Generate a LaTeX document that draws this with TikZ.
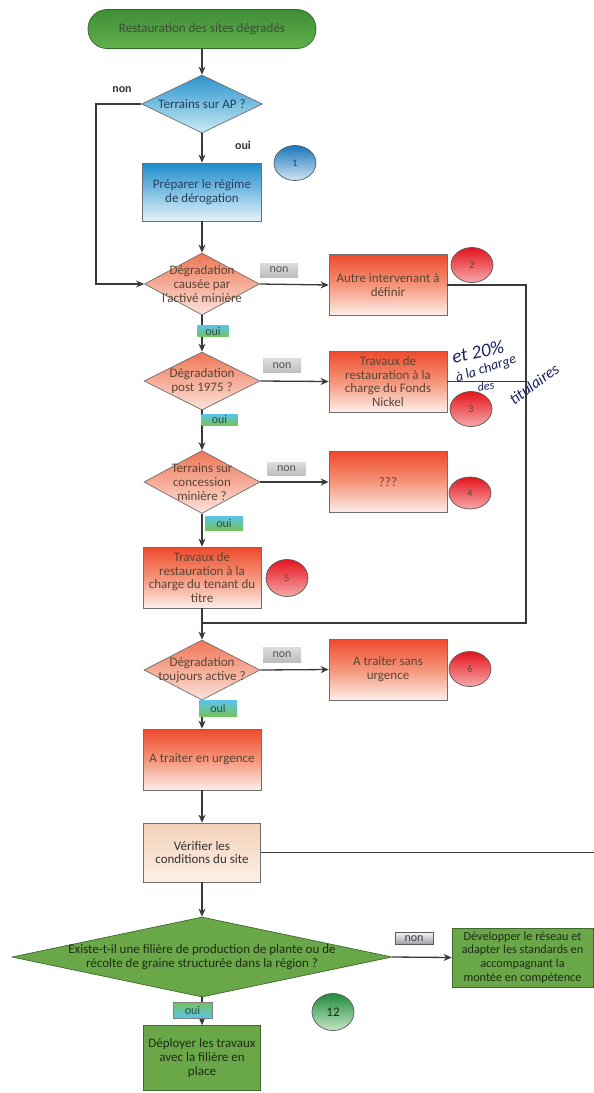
\documentclass[tikz,border=0pt]{standalone}
\usepackage{fontspec}
\setmainfont{Carlito}
\usetikzlibrary{shapes.geometric,arrows.meta}

% palette
\definecolor{lineg}{HTML}{3A3A3A}
\definecolor{termtop}{HTML}{3E8E35}
\definecolor{termbot}{HTML}{62B04C}
\definecolor{termedge}{HTML}{2D6A27}
\definecolor{termtxt}{HTML}{3D4D36}
\definecolor{bluetop}{HTML}{1E8CCB}
\definecolor{bluebot}{HTML}{E4F3FA}
\definecolor{bluedtop}{HTML}{2A93CC}
\definecolor{bluedbot}{HTML}{C9ECF4}
\definecolor{bluetxt}{HTML}{23405E}
\definecolor{redtop}{HTML}{EE4A2C}
\definecolor{redmid}{HTML}{F5957A}
\definecolor{redbot}{HTML}{FCEFEA}
\definecolor{reddtop}{HTML}{EF7556}
\definecolor{reddbot}{HTML}{FBE4DA}
\definecolor{redtxt}{HTML}{5A4535}
\definecolor{boxedge}{HTML}{6E6E6E}
\definecolor{crtop}{HTML}{E3141C}
\definecolor{crbot}{HTML}{F7A9A9}
\definecolor{cbtop}{HTML}{1B75BC}
\definecolor{cbbot}{HTML}{CFE6F3}
\definecolor{cgtop}{HTML}{1F8A3C}
\definecolor{cgbot}{HTML}{C5E6C5}
\definecolor{peachtop}{HTML}{F4D1B8}
\definecolor{peachbot}{HTML}{FCEFE6}
\definecolor{greenf}{HTML}{6AA749}
\definecolor{greenedge}{HTML}{3E6B2D}
\definecolor{greentxt}{HTML}{1F2B17}
\definecolor{greytop}{HTML}{DCDCDC}
\definecolor{greybot}{HTML}{BEBEBE}
\definecolor{greytxt}{HTML}{555555}
\definecolor{nontop}{HTML}{F2F2F6}
\definecolor{nonbot}{HTML}{9C9CA4}
\definecolor{nonedge}{HTML}{5A5A60}
\definecolor{ouitop}{HTML}{5CC3EA}
\definecolor{ouibot}{HTML}{73C35A}
\definecolor{ouitxt}{HTML}{2E4A4A}
\definecolor{ink}{HTML}{1C2260}

\tikzset{
  every node/.style={font=\fontsize{13}{13.8}\selectfont},
  base/.style={draw=boxedge, line width=0.7pt, align=center, inner sep=2pt},
  terminal/.style={base, rectangle, rounded corners=19pt, draw=termedge,
    minimum width=228pt, minimum height=39pt,
    top color=termtop, bottom color=termbot, text=termtxt},
  bluebox/.style={base, rectangle, minimum width=119pt, minimum height=58pt,
    top color=bluetop, bottom color=bluebot, text=bluetxt},
  redbox/.style={base, rectangle, minimum width=118pt, minimum height=61pt,
    top color=redtop, bottom color=redbot, middle color=redmid, text=redtxt},
  peachbox/.style={base, rectangle, minimum width=117pt, minimum height=59pt,
    top color=peachtop, bottom color=peachbot, text=black!80},
  greenbox/.style={base, rectangle, draw=greenedge, fill=greenf, text=greentxt},
  dtext/.style={align=center, inner sep=0pt},
  bluedia/.style={diamond, draw=boxedge, line width=0.7pt, inner sep=0pt,
    top color=bluedtop, bottom color=bluedbot,
    label={[dtext, text=bluetxt]center:#1}},
  reddia/.style={diamond, draw=boxedge, line width=0.7pt, inner sep=0pt,
    minimum width=116pt, minimum height=60pt,
    top color=reddtop, bottom color=reddbot,
    label={[dtext, text=redtxt]center:#1}},
  greendia/.style={diamond, draw=greenedge, line width=0.7pt, inner sep=0pt,
    fill=greenf, label={[dtext, text=greentxt]center:#1}},
  badge/.style={ellipse, draw=black!65, line width=0.7pt, inner sep=0pt,
    minimum width=42pt, minimum height=35pt, font=\fontsize{10}{11}\selectfont},
  redbadge/.style={badge, top color=crtop, bottom color=crbot, text=redtxt},
  bluebadge/.style={badge, top color=cbtop, bottom color=cbbot, text=bluetxt},
  greenbadge/.style={badge, top color=cgtop, bottom color=cgbot, text=greentxt,
    font=\fontsize{13}{14}\selectfont},
  nontag/.style={rectangle, inner sep=0pt, minimum width=38pt, minimum height=14pt,
    top color=greytop, bottom color=greybot, text=greytxt,
    font=\fontsize{12}{12}\selectfont},
  ouitag/.style={rectangle, inner sep=0pt, minimum width=36pt, minimum height=13pt,
    top color=ouitop, bottom color=ouibot, text=ouitxt,
    font=\fontsize{12}{12}\selectfont},
  plain/.style={text=black!80, inner sep=0pt, font=\bfseries\fontsize{12}{12}\selectfont},
  hand/.style={text=ink, inner sep=0pt},
  flow/.style={draw=lineg, line width=1.3pt, -{Stealth[length=8pt,width=7pt]}},
  link/.style={draw=lineg, line width=1.3pt},
}

\begin{document}
\begin{tikzpicture}[x=1pt, y=-1pt]
  \useasboundingbox (0,0) rectangle (594,1093);
  \fill[white] (0,0) rectangle (594,1093);

  % main column
  \node[terminal] (start) at (202,29) {Restauration des sites dégradés};
  \node[bluedia={Terrains sur AP ?}, minimum width=121pt, minimum height=58pt] (d1) at (202,104) {};
  \node[bluebox] (b1) at (202,192) {Préparer le régime\\de dérogation};
  \node[bluebadge] (c1) at (295,163) {1};

  \node[reddia={Dégradation\\causée par\\l'activé minière}, minimum width=115pt, minimum height=62pt] (d2) at (202,284) {};
  \node[redbox] (b2) at (388,285) {Autre intervenant à\\définir};
  \node[redbadge] (c2) at (472,265) {2};

  \node[reddia={Dégradation\\post 1975 ?}, minimum height=58pt] (d3) at (202,381) {};
  \node[redbox] (b3) at (388,381.5) {Travaux de\\restauration à la\\charge du Fonds\\Nickel};
  \node[redbadge] (c3) at (471,409) {3};

  \node[reddia={Terrains sur\\concession\\minière ?}, minimum height=63pt] (d4) at (202,482) {};
  \node[redbox] (b4) at (388,482) {???};
  \node[redbadge, minimum height=32pt] (c4) at (470,493) {4};

  \node[redbox] (b5) at (202,577.5) {Travaux de\\restauration à la\\charge du tenant du\\titre};
  \node[redbadge, minimum height=37pt] (c5) at (287,578) {5};

  \node[reddia={Dégradation\\toujours active ?}] (d5) at (202,670) {};
  \node[redbox] (b6) at (388,669.5) {A traiter sans\\urgence};
  \node[redbadge] (c6) at (470,669) {6};

  \node[redbox] (b7) at (202,759.5) {A traiter en urgence};
  \node[peachbox] (b8) at (202,852.5) {Vérifier les\\conditions du site};

  \node[greendia={Existe-t-il une filière de production de plante ou de\\récolte de graine structurée dans la région ?},
        minimum width=380pt, minimum height=80pt] (d6) at (202,957) {};
  \node[greenbox, minimum width=141pt, minimum height=59pt, inner sep=1pt,
        font=\fontsize{12.2}{13.8}\selectfont] (b9) at (522.5,957.5)
    {Développer le réseau et\\adapter les standards en\\accompagnant la\\montée en compétence};
  \node[greenbox, minimum width=117pt, minimum height=65pt] (b10) at (202,1058)
    {Déployer les travaux\\avec la filière en\\place};
  \node[greenbadge, minimum height=37pt] (c12) at (333,1012) {12};

  % routing points
  \coordinate (apleft) at (96,104);
  \coordinate (aplow) at (96,284);
  \coordinate (rtop) at (526,285);
  \coordinate (rmid) at (526,381.5);
  \coordinate (rlow) at (526,623);
  \coordinate (join) at (202,623);
  \coordinate (exit) at (594,852.5);

  % connectors
  \draw[flow] (start) -- (d1);
  \draw[flow] (d1) -- (b1);
  \draw[flow] (b1) -- (d2);
  \draw[flow] (d1.west) -- (apleft) -- (aplow) -- (d2.west);
  \draw[flow] (d2.east) -- (b2.west);
  \draw[flow] (d2) -- (d3);
  \draw[flow] (d3.east) -- (b3.west);
  \draw[flow] (d3) -- (d4);
  \draw[flow] (d4.east) -- (b4.west);
  \draw[flow] (d4) -- (b5);
  \draw[flow] (b5) -- (d5);
  \draw[link] (b2.east) -- (rtop) -- (rlow) -- (join);
  \draw[link] (b3.east) -- (rmid);
  \draw[flow] (d5.east) -- (b6.west);
  \draw[flow] (d5) -- (b7);
  \draw[flow] (b7) -- (b8);
  \draw[link] (b8.east) -- (exit);
  \draw[flow] (b8) -- (d6);
  \draw[flow] (d6.east) -- (b9.west);
  \draw[flow] (d6) -- (b10);

  % branch labels
  \node[plain] (n1) at (122,90) {non};
  \node[plain] (o1) at (243,145) {oui};
  \node[nontag] (n2) at (279,270) {non};
  \node[ouitag, minimum width=31pt, minimum height=11pt] (o2) at (213,331) {oui};
  \node[nontag] (n3) at (282,365.5) {non};
  \node[ouitag, minimum height=11pt] (o3) at (219.5,419.5) {oui};
  \node[nontag, minimum height=13pt] (n4) at (286.5,469) {non};
  \node[ouitag, minimum width=38pt, minimum height=14pt] (o4) at (224,523) {oui};
  \node[nontag, minimum height=15pt] (n5) at (282,654.5) {non};
  \node[ouitag, minimum width=38pt, minimum height=16pt] (o5) at (218,708.5) {oui};
  \node[nontag, draw=nonedge, line width=0.6pt, top color=nontop, bottom color=nonbot,
        text=black!75, minimum height=12pt] (n6) at (414,938.5) {non};
  \node[ouitag, top color=ouibot, bottom color=ouitop, draw=black!50, line width=0.5pt,
        minimum width=39pt, minimum height=16pt] (o6) at (192.5,1010) {oui};

  % handwritten note beside the Fonds Nickel box
  \node[hand, font=\itshape\fontsize{19}{19}\selectfont, rotate=12] (h1) at (478,352) {et 20\%};
  \node[hand, font=\itshape\fontsize{14}{14}\selectfont, rotate=18] (h2) at (486,369) {à la charge};
  \node[hand, font=\itshape\fontsize{12}{12}\selectfont, rotate=8] (h3) at (486,386) {des};
  \node[hand, font=\itshape\fontsize{16}{16}\selectfont, rotate=36] (h4) at (534,384) {titulaires};
\end{tikzpicture}
\end{document}
